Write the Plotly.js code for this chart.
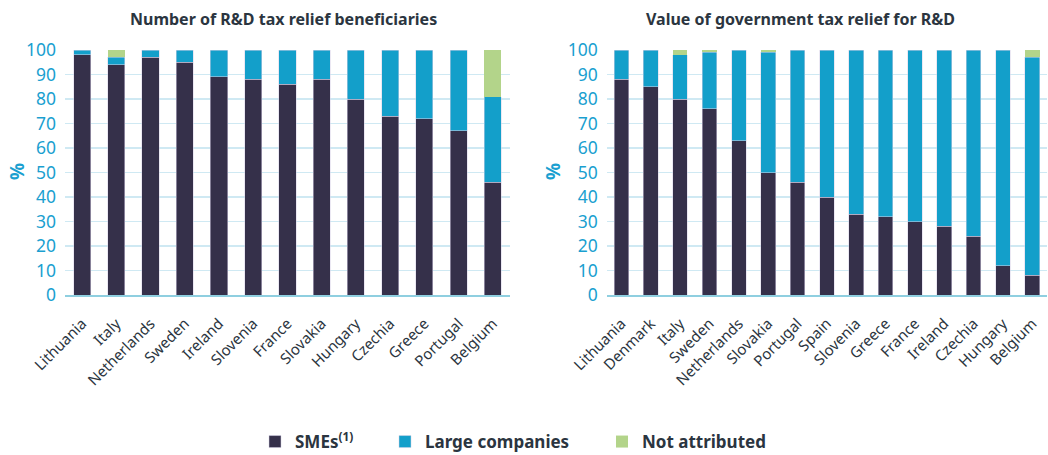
<!DOCTYPE html>
<html><head><meta charset="utf-8">
<script src="https://cdn.plot.ly/plotly-3.0.1.min.js"></script>
<style>html,body{margin:0;padding:0;background:#fff}#c{width:1048px;height:455px}</style>
</head><body><div id="c"></div>
<script>
const catsA = ["Lithuania","Italy","Netherlands","Sweden","Ireland","Slovenia","France","Slovakia","Hungary","Czechia","Greece","Portugal","Belgium"];
const smeA = [98,94,97,95,89,88,86,88,80,73,72,67,46];
const largeA = [2,3,3,5,11,12,14,12,20,27,28,33,35];
const naA = [0,3,0,0,0,0,0,0,0,0,0,0,19];

const catsB = ["Lithuania","Denmark","Italy","Sweden","Netherlands","Slovakia","Portugal","Spain","Slovenia","Greece","France","Ireland","Czechia","Hungary","Belgium"];
const smeB = [88,85,80,76,63,50,46,40,33,32,30,28,24,12,8];
const largeB = [12,15,18,23,37,49,54,60,67,68,70,72,76,88,89];
const naB = [0,0,2,1,0,1,0,0,0,0,0,0,0,0,3];

const titleA = "Number of R&D tax relief beneficiaries";
const titleB = "Value of government tax relief for R&D";
const yTitle = "%";
const seriesNames = ["SMEs<sup>(1)</sup>","Large companies","Not attributed"];

const W = 1048, H = 455, T = 50, B = 160, PH = H - T - B;
const cSME = "#35304a", cLarge = "#139fca", cNA = "#b3d48a";
const lineWidths = [0.6, 0.6, 0];
const font = "Noto Sans, Open Sans, sans-serif";
const legKeys = ["legend","legend2","legend3"];

function mk(x, y, i, color, xa, ya, show){
  return {type:"bar", x:x, y:y, name:seriesNames[i], xaxis:xa, yaxis:ya, showlegend:show, legend:legKeys[i],
    marker:{color:color, line:{color:"rgba(215,210,232,0.85)", width:lineWidths[i]}}, hoverinfo:"x+y"};
}
const data = [
  mk(catsA, smeA, 0, cSME, "x", "y", true),
  mk(catsA, largeA, 1, cLarge, "x", "y", true),
  mk(catsA, naA, 2, cNA, "x", "y", true),
  mk(catsB, smeB, 0, cSME, "x2", "y2", false),
  mk(catsB, largeB, 1, cLarge, "x2", "y2", false),
  mk(catsB, naB, 2, cNA, "x2", "y2", false)
];

const yax = {range:[0,100], dtick:10, tickfont:{color:"#1a9fd0", size:17.5, family:font},
  gridcolor:"#cfe9f3", gridwidth:1.5, zeroline:false, showline:false, ticks:"", ticklen:0,
  ticklabelstandoff:8};
const xax = {tickangle:-45, tickfont:{color:"#2b3540", size:15, family:font},
  showline:true, linecolor:"#8fcfe0", linewidth:2, ticks:"outside", ticklen:12, tickcolor:"rgba(0,0,0,0)", showgrid:false};

function py(p){ return (H - B - p) / PH; }
function leg(px){ return {orientation:"h", x:px/W, xanchor:"left", yref:"container", y:(H-442)/H, yanchor:"middle",
  font:{size:17, color:"#2b3540", family:font, weight:"bold"}, bgcolor:"rgba(0,0,0,0)"}; }

const titleFont = {size:16, color:"#2b3540", family:font, weight:"bold"};
const pctFont = {color:"#1a9fd0", size:19, family:font, weight:"bold"};

const layout = {
  width:W, height:H, barmode:"stack", bargap:0.5,
  margin:{l:0, r:0, t:T, b:B}, paper_bgcolor:"#fff", plot_bgcolor:"#fff",
  font:{family:font, color:"#2b3540"},
  xaxis: Object.assign({}, xax, {domain:[0.062,0.4866], anchor:"y"}),
  yaxis: Object.assign({}, yax, {anchor:"x"}),
  xaxis2: Object.assign({}, xax, {domain:[0.579,0.999], anchor:"y2"}),
  yaxis2: Object.assign({}, yax, {anchor:"x2"}),
  annotations:[
    {text:titleA, x:283/W, y:py(19), font:titleFont},
    {text:titleB, x:800/W, y:py(19), font:titleFont},
    {text:yTitle, x:17/W, y:py(172), font:pctFont, textangle:-90},
    {text:yTitle, x:553/W, y:py(172), font:pctFont, textangle:-90}
  ].map(a=>Object.assign(a,{xref:"paper", yref:"paper", showarrow:false, xanchor:"center", yanchor:"middle"})),
  legend: leg(255),
  legend2: leg(385),
  legend3: leg(602),
  showlegend:true
};

Plotly.newPlot("c", data, layout, {displayModeBar:false, staticPlot:true});
</script></body></html>
